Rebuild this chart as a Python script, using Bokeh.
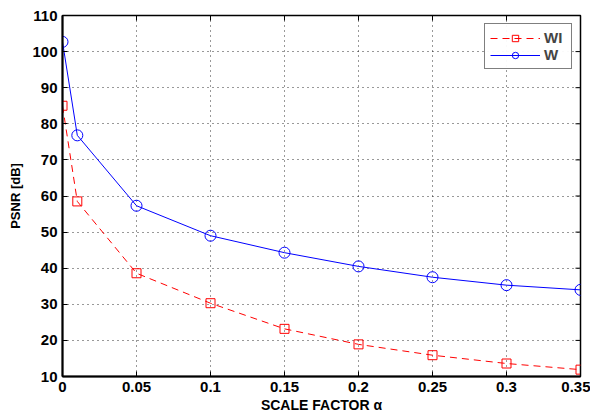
import math
from bokeh.plotting import figure
from bokeh.models import FixedTicker, Range1d, Legend, LegendItem
from bokeh.embed import file_html
from bokeh.resources import INLINE

alpha = [0.0, 0.01, 0.05, 0.1, 0.15, 0.2, 0.25, 0.3, 0.35]
psnr_wi = [85.0, 58.5, 38.6, 30.3, 23.2, 18.9, 15.9, 13.6, 11.9]
psnr_w = [102.7, 76.8, 57.3, 49.0, 44.3, 40.5, 37.5, 35.3, 34.0]
x_ticks = [0, 0.05, 0.1, 0.15, 0.2, 0.25, 0.3, 0.35]
x_tick_labels = ["0", "0.05", "0.1", "0.15", "0.2", "0.25", "0.3", "0.35"]
y_ticks = [10, 20, 30, 40, 50, 60, 70, 80, 90, 100, 110]

FONT = "Liberation Sans"
X0, X1, Y0, Y1 = 0, 0.35, 10, 110

p = figure(width=590, height=418, output_backend="svg", toolbar_location=None,
           x_range=Range1d(X0, X1), y_range=Range1d(Y0, Y1),
           min_border_left=62, min_border_right=10, min_border_top=15, min_border_bottom=42)

p.outline_line_color = "black"
p.outline_line_width = 1.5
p.background_fill_color = "white"
p.border_fill_color = "white"

for ax in (p.xaxis[0], p.yaxis[0]):
    ax.axis_line_width = 2
    ax.major_tick_in = 5
    ax.major_tick_out = 0
    ax.minor_tick_in = 0
    ax.minor_tick_out = 0
    ax.major_label_text_font = FONT
    ax.major_label_text_font_style = "bold"
    ax.major_label_text_font_size = "15px"
    ax.major_label_text_color = "black"
    ax.axis_label_text_font = FONT
    ax.axis_label_text_font_style = "bold"
    ax.axis_label_text_color = "black"

p.xaxis.ticker = FixedTicker(ticks=x_ticks)
p.xaxis.major_label_overrides = {t: l for t, l in zip(x_ticks, x_tick_labels)}
p.yaxis.ticker = FixedTicker(ticks=y_ticks)
p.xaxis.axis_label = "SCALE FACTOR α"
p.yaxis.axis_label = "PSNR [dB]"
p.xaxis.axis_label_text_font_size = "14px"
p.yaxis.axis_label_text_font_size = "13px"
p.xaxis.axis_label_standoff = 2
p.yaxis.axis_label_standoff = 6
p.xaxis.major_label_standoff = 5
p.yaxis.major_label_standoff = 5

# inward tick marks on the top and right edges (half of each dash is clipped by the frame)
p.scatter(x_ticks, [Y1] * len(x_ticks), marker="dash", size=10, angle=math.pi / 2,
          line_color="black", line_width=1)
p.scatter([X1] * len(y_ticks), y_ticks, marker="dash", size=10,
          line_color="black", line_width=1)

p.xgrid.grid_line_color = "black"
p.ygrid.grid_line_color = "black"
p.xgrid.grid_line_dash = "1 4"
p.ygrid.grid_line_dash = "1 4"
p.xgrid.grid_line_alpha = 0.8
p.ygrid.grid_line_alpha = 0.8

l1 = p.line(alpha, psnr_wi, line_color="red", line_width=1, line_dash="7 5")
m1 = p.scatter(alpha, psnr_wi, marker="square", size=9, fill_color=None, line_color="red", line_width=1)
l2 = p.line(alpha, psnr_w, line_color="blue", line_width=1)
m2 = p.scatter(alpha, psnr_w, marker="circle", size=11, fill_color=None, line_color="blue", line_width=1)

legend = Legend(items=[LegendItem(label="WI", renderers=[l1, m1]),
                       LegendItem(label="W", renderers=[l2, m2])],
                location="top_right")
legend.label_text_font = FONT
legend.label_text_font_style = "bold"
legend.label_text_font_size = "15px"
legend.border_line_color = "black"
legend.border_line_width = 1.5
legend.margin = 8
legend.padding = 5
legend.spacing = 0
legend.glyph_width = 50
legend.glyph_height = 16
legend.label_standoff = 4
legend.label_height = 16
legend.label_width = 22
p.add_layout(legend)

open("out.html", "w").write(file_html(p, INLINE))
